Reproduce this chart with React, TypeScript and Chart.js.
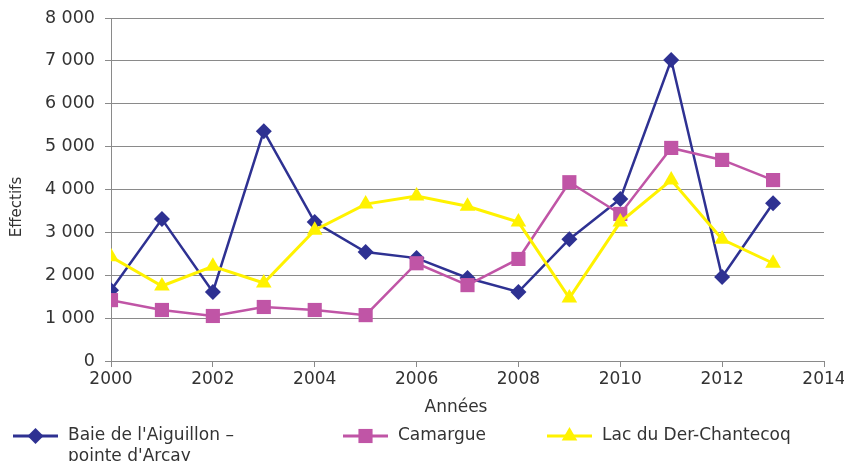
import React, { useEffect, useRef } from "react";
import { Chart, registerables } from "chart.js";

Chart.register(...registerables);

const years = [2000, 2001, 2002, 2003, 2004, 2005, 2006, 2007, 2008, 2009, 2010, 2011, 2012, 2013];
const aiguillon = [1650, 3310, 1610, 5360, 3240, 2540, 2400, 1935, 1610, 2840, 3780, 7020, 1960, 3680];
const camargue = [1420, 1190, 1050, 1260, 1190, 1070, 2280, 1770, 2380, 4170, 3430, 4970, 4690, 4220];
const derChantecoq = [2430, 1750, 2210, 1820, 3050, 3660, 3850, 3610, 3240, 1470, 3240, 4220, 2840, 2280];
const seriesLabels = [["Baie de l'Aiguillon –", "pointe d'Arçay"], ["Camargue"], ["Lac du Der-Chantecoq"]];
const xTitle = "Années";
const yTitle = "Effectifs";

const BLUE = "#2E3192";
const PINK = "#C055A6";
const YELLOW = "#FFF200";
const FONT = "'DejaVu Sans', sans-serif";
const TEXT = "#333333";

function fmt(v: number) {
  const s = String(Math.round(v));
  return s.replace(/\B(?=(\d{3})+(?!\d))/g, " ");
}

function drawMarker(ctx: CanvasRenderingContext2D, style: string, x: number, y: number, r: number, color: string) {
  ctx.save();
  ctx.fillStyle = color;
  ctx.beginPath();
  if (style === "rectRot") {
    ctx.moveTo(x, y - r);
    ctx.lineTo(x + r, y);
    ctx.lineTo(x, y + r);
    ctx.lineTo(x - r, y);
  } else if (style === "rect") {
    const s = r * Math.SQRT1_2;
    ctx.rect(x - s, y - s, 2 * s, 2 * s);
  } else {
    ctx.moveTo(x, y - r);
    ctx.lineTo(x + r * Math.sin(Math.PI / 3), y + r / 2);
    ctx.lineTo(x - r * Math.sin(Math.PI / 3), y + r / 2);
  }
  ctx.closePath();
  ctx.fill();
  ctx.restore();
}

const customPlugin = {
  id: "customLegendTitles",
  afterDraw(chart: any) {
    const ctx: CanvasRenderingContext2D = chart.ctx;
    ctx.save();
    ctx.fillStyle = TEXT;
    ctx.font = `17px ${FONT}`;
    ctx.textAlign = "center";
    ctx.textBaseline = "middle";
    ctx.fillText(xTitle, 456, 408);
    ctx.save();
    ctx.translate(17, 207);
    ctx.rotate(-Math.PI / 2);
    ctx.font = `15px ${FONT}`;
    ctx.fillText(yTitle, 0, 0);
    ctx.restore();

    const items = [
      { x: 13, color: BLUE, style: "rectRot", r: 8, lines: seriesLabels[0] },
      { x: 343, color: PINK, style: "rect", r: 10, lines: seriesLabels[1] },
      { x: 547, color: YELLOW, style: "triangle", r: 9, lines: seriesLabels[2] },
    ];
    const ly = 436;
    items.forEach((it) => {
      ctx.strokeStyle = it.color;
      ctx.lineWidth = 3;
      ctx.beginPath();
      ctx.moveTo(it.x, ly);
      ctx.lineTo(it.x + 45, ly);
      ctx.stroke();
      drawMarker(ctx, it.style, it.x + 22.5, ly, it.r, it.color);
      ctx.fillStyle = TEXT;
      ctx.font = `17px ${FONT}`;
      ctx.textAlign = "left";
      ctx.textBaseline = "middle";
      it.lines.forEach((t, i) => ctx.fillText(t, it.x + 55, ly + i * 21));
    });
    ctx.restore();
  },
};

export default function App() {
  const ref = useRef<HTMLCanvasElement | null>(null);
  useEffect(() => {
    if (!ref.current) return;
    const chart = new Chart(ref.current, {
      type: "line",
      data: {
        datasets: [
          {
            label: seriesLabels[0].join(" "),
            data: years.map((y, i) => ({ x: y, y: aiguillon[i] })),
            borderColor: BLUE,
            backgroundColor: BLUE,
            borderWidth: 2.5,
            pointStyle: "rectRot",
            pointRadius: 8,
            pointBorderWidth: 0,
            order: 3,
          },
          {
            label: seriesLabels[1].join(" "),
            data: years.map((y, i) => ({ x: y, y: camargue[i] })),
            borderColor: PINK,
            backgroundColor: PINK,
            borderWidth: 2.5,
            pointStyle: "rect",
            pointRadius: 10,
            pointBorderWidth: 0,
            order: 2,
          },
          {
            label: seriesLabels[2].join(" "),
            data: years.map((y, i) => ({ x: y, y: derChantecoq[i] })),
            borderColor: YELLOW,
            backgroundColor: YELLOW,
            borderWidth: 3,
            pointStyle: "triangle",
            pointRadius: 9,
            pointBorderWidth: 0,
            order: 1,
          },
        ],
      },
      options: {
        animation: false,
        responsive: true,
        maintainAspectRatio: false,
        layout: { padding: { left: 0, top: 18, right: 20, bottom: 60 } },
        plugins: { legend: { display: false }, tooltip: { enabled: false } },
        scales: {
          x: {
            type: "linear",
            min: 2000,
            max: 2014,
            ticks: {
              stepSize: 2,
              color: TEXT,
              font: { family: FONT, size: 17 },
              padding: 2,
              maxRotation: 0,
              callback: (v: any) => String(v),
            },
            grid: { drawOnChartArea: false, drawTicks: true, tickLength: 6, color: "#8a8a8a" },
            border: { color: "#8a8a8a", width: 1 },
            afterFit: (s: any) => { s.height = 40; s.paddingLeft = 0; s.paddingRight = 0; },
          },
          y: {
            min: 0,
            max: 8000,
            ticks: {
              stepSize: 1000,
              color: TEXT,
              font: { family: FONT, size: 17.5 },
              padding: 10,
              callback: (v: any) => fmt(Number(v)),
            },
            grid: { color: "#8a8a8a", tickLength: 6, lineWidth: 1 },
            border: { color: "#8a8a8a", width: 1 },
            afterFit: (s: any) => { s.width = 111; s.paddingTop = 0; s.paddingBottom = 0; },
          },
        },
      },
      plugins: [customPlugin],
    });
    return () => chart.destroy();
  }, []);
  return (
    <div style={{ position: "fixed", left: 0, top: 0, width: 844, height: 461, background: "#fff" }}>
      <canvas ref={ref} />
    </div>
  );
}
